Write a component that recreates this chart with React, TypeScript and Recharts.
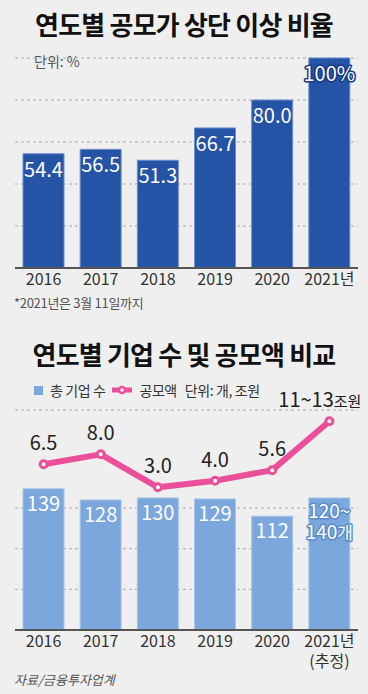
import React from 'react';
import { BarChart, Bar, ComposedChart, Line, XAxis, YAxis, CartesianGrid, LabelList } from 'recharts';

const FONT = '"Noto Sans CJK KR", "Noto Sans", sans-serif';

// 공모가 상단 이상 비율 (%)
const years = ['2016', '2017', '2018', '2019', '2020', '2021'];
const yearTicks = ['2016', '2017', '2018', '2019', '2020', '2021년'];
const yearTicksSub = ['', '', '', '', '', '(추정)'];
const topRatio = [54.4, 56.5, 51.3, 66.7, 80.0, 100];
const topLabels = ['54.4', '56.5', '51.3', '66.7', '80.0', '100%'];
const topGridTicks = [0, 20, 40, 60, 80];

// 기업 수 (개) / 공모액 (조원)
const companyCount = [139, 128, 130, 129, 112, 130];
const countLabels = ['139', '128', '130', '129', '112', '120~'];
const offeringAmount = [6.5, 8.0, 3.0, 4.0, 5.6, 13];
const amountLabels = ['6.5', '8.0', '3.0', '4.0', '5.6', '11~13'];
const bottomGridTicks = [0, 20, 40, 60, 80, 100, 120];

const DARK_BLUE = '#2553a6';
const LIGHT_BLUE = '#7ba7dc';
const PINK = '#ec4f9a';

const topData = years.map((y, i) => ({ year: y, ratio: topRatio[i] }));
const bottomData = years.map((y, i) => ({ year: y, count: companyCount[i], amount: offeringAmount[i] }));

const YearTick = (props: any) => {
    const { x, y, payload, withSub } = props;
    const i = years.indexOf(String(payload.value));
    return (
        <g>
            <text x={x} y={y + 17} textAnchor="middle" fontSize={16} fill="#333" fontFamily={FONT}>
                {yearTicks[i]}
            </text>
            {withSub && yearTicksSub[i] && (
                <text x={x} y={y + 37} textAnchor="middle" fontSize={16} fill="#333" fontFamily={FONT}>
                    {yearTicksSub[i]}
                </text>
            )}
        </g>
    );
};

const TopBarLabel = (props: any) => {
    const { x, y, width, index } = props;
    const last = index === topLabels.length - 1;
    return (
        <text
            x={x + width / 2}
            y={y + 23}
            textAnchor="middle"
            fontSize={20}
            fill="#fff"
            fontFamily={FONT}
            stroke={last ? '#173a85' : 'none'}
            strokeWidth={last ? 3 : 0}
            strokeLinejoin="round"
            paintOrder="stroke"
        >
            {topLabels[index]}
        </text>
    );
};

const CountLabel = (props: any) => {
    const { x, y, width, index } = props;
    const cx = x + width / 2;
    if (index === countLabels.length - 1) {
        // 2021년 추정치는 두 줄
        return (
            <g fontFamily={FONT} fontSize={19} fill="#fff" stroke="#5b8ccd" strokeWidth={3} strokeLinejoin="round" paintOrder="stroke">
                <text x={cx} y={y + 20} textAnchor="middle">{countLabels[index]}</text>
                <text x={cx} y={y + 41.5} textAnchor="middle">
                    140<tspan fontSize={17}>개</tspan>
                </text>
            </g>
        );
    }
    return (
        <text x={cx} y={y + 22} textAnchor="middle" fontSize={20} fill="#fff" fontFamily={FONT}>
            {countLabels[index]}
        </text>
    );
};

const AmountLabel = (props: any) => {
    const { x, y, index } = props;
    if (index === amountLabels.length - 1) {
        return (
            <text x={x + 32} y={y - 14} textAnchor="end" fontSize={20} fill="#222" fontFamily={FONT}>
                {amountLabels[index]}
                <tspan fontSize={15}>조원</tspan>
            </text>
        );
    }
    return (
        <text x={x} y={y - 14} textAnchor="middle" fontSize={20} fill="#222" fontFamily={FONT}>
            {amountLabels[index]}
        </text>
    );
};

const titleStyle: React.CSSProperties = {
    position: 'absolute',
    left: 0,
    width: 368,
    textAlign: 'center',
    fontSize: 26,
    fontWeight: 700,
    letterSpacing: -0.8,
    color: '#111',
    lineHeight: '30px',
    whiteSpace: 'nowrap',
};

export default function App() {
    return (
        <div style={{ position: 'absolute', left: 0, top: 0, width: 368, height: 694, background: '#efefef', fontFamily: FONT, overflow: 'hidden' }}>
            {/* 상단 차트 */}
            <div style={{ ...titleStyle, top: 9 }}>연도별 공모가 상단 이상 비율</div>
            <div style={{ position: 'absolute', left: 34, top: 52, fontSize: 14, color: '#555', lineHeight: '18px' }}>단위: %</div>

            <div style={{ position: 'absolute', left: 0, top: 0 }}>
                <BarChart width={368} height={300} data={topData} margin={{ top: 58, right: 10, left: 15, bottom: 0 }}>
                    <CartesianGrid vertical={false} strokeDasharray="3 3" stroke="#aaa" />
                    <XAxis dataKey="year" height={32} tickLine={false} tickSize={0} tickMargin={0} axisLine={{ stroke: '#555', strokeWidth: 2 }} tick={<YearTick />} interval={0} />
                    <YAxis hide domain={[0, 100]} ticks={topGridTicks} />
                    <Bar dataKey="ratio" fill={DARK_BLUE} stroke="#6f8fcf" strokeWidth={1} barSize={41} isAnimationActive={false}>
                        <LabelList dataKey="ratio" content={<TopBarLabel />} />
                    </Bar>
                </BarChart>
            </div>

            <div style={{ position: 'absolute', left: 14, top: 294, fontSize: 13, color: '#555', lineHeight: '17px', letterSpacing: -0.3 }}>
                *2021년은 3월 11일까지
            </div>

            {/* 하단 차트 */}
            <div style={{ ...titleStyle, top: 339 }}>연도별 기업 수 및 공모액 비교</div>

            <div style={{ position: 'absolute', left: 34, top: 381, height: 18, display: 'flex', alignItems: 'center', fontSize: 14, color: '#333', letterSpacing: -0.4, whiteSpace: 'nowrap' }}>
                <span style={{ display: 'inline-block', width: 9, height: 9, background: LIGHT_BLUE, marginRight: 7 }} />
                <span>총 기업 수</span>
                <svg width={22} height={12} style={{ marginLeft: 6, marginRight: 6 }}>
                    <line x1={1} y1={6} x2={21} y2={6} stroke={PINK} strokeWidth={5} />
                    <circle cx={11} cy={6} r={3} fill="#fff" stroke={PINK} strokeWidth={2.5} />
                </svg>
                <span>공모액</span>
                <span style={{ marginLeft: 8 }}>단위: 개, 조원</span>
            </div>

            <div style={{ position: 'absolute', left: 0, top: 370 }}>
                <ComposedChart width={368} height={312} data={bottomData} margin={{ top: 40, right: 10, left: 15, bottom: 0 }}>
                    <CartesianGrid vertical={false} strokeDasharray="3 3" stroke="#aaa" yAxisId="count" />
                    <XAxis dataKey="year" height={52} tickLine={false} tickSize={0} tickMargin={0} axisLine={{ stroke: '#555', strokeWidth: 2 }} tick={<YearTick withSub />} interval={0} />
                    <YAxis yAxisId="count" hide domain={[0, 216.5]} ticks={bottomGridTicks} />
                    <YAxis yAxisId="amount" hide orientation="right" domain={[-18.62, 14.71]} />
                    <Bar yAxisId="count" dataKey="count" fill={LIGHT_BLUE} stroke="#a9c6ea" strokeWidth={1} barSize={41} isAnimationActive={false}>
                        <LabelList dataKey="count" content={<CountLabel />} />
                    </Bar>
                    <Line
                        yAxisId="amount"
                        type="linear"
                        dataKey="amount"
                        stroke={PINK}
                        strokeWidth={6}
                        dot={{ r: 3.5, fill: '#fff', stroke: PINK, strokeWidth: 3 }}
                        activeDot={false}
                        isAnimationActive={false}
                    >
                        <LabelList dataKey="amount" content={<AmountLabel />} />
                    </Line>
                </ComposedChart>
            </div>

            <div style={{ position: 'absolute', left: 14, top: 671, fontSize: 13, color: '#555', fontStyle: 'italic', lineHeight: '17px' }}>
                자료/금융투자업계
            </div>
        </div>
    );
}
